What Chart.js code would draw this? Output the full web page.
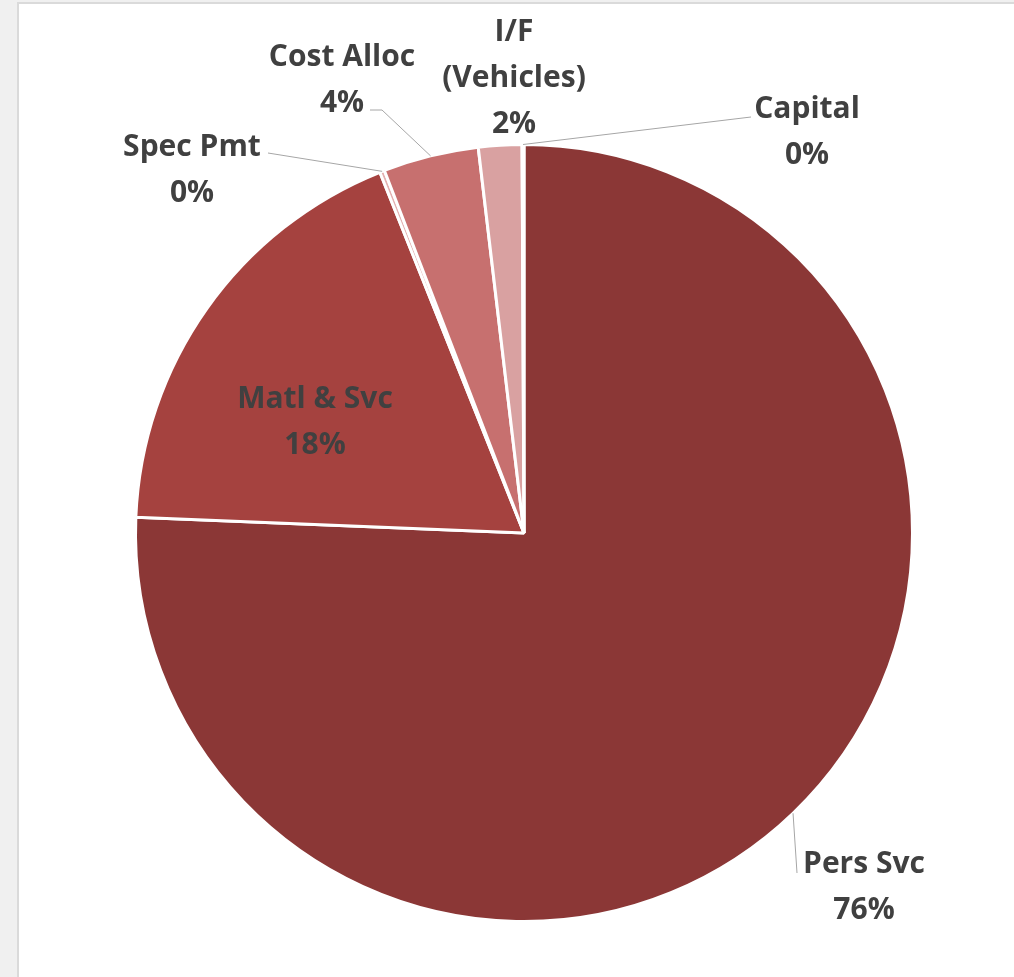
<!DOCTYPE html>
<html>
<head>
<meta charset="utf-8">
<script src="https://cdn.jsdelivr.net/npm/chart.js@4"></script>
<style>
  html, body { margin: 0; padding: 0; background: #f0f0f0; }
  body { width: 1014px; height: 977px; position: relative; overflow: hidden; }
  #panel {
    position: absolute; left: 17px; top: 2px; right: 0; bottom: 0;
    background: #ffffff; border-left: 2px solid #dadada; border-top: 2px solid #dadada;
  }
  #wrap { position: absolute; left: 0; top: 0; width: 1014px; height: 977px; }
</style>
</head>
<body>
<div id="panel"></div>
<div id="wrap"><canvas id="pieChart" width="1014" height="977"></canvas></div>
<script>
// dane wykresu (udział w budżecie, %)
const categories = ['Pers Svc', 'Matl & Svc', 'Spec Pmt', 'Cost Alloc', 'I/F (Vehicles)', 'Capital'];
const shares = [75.65, 18.3, 0.2, 3.97, 1.8, 0.08];
const sliceColors = ['#8b3736', '#a5423f', '#e3b0b0', '#c7706f', '#d9a1a1', '#7a2e2e'];

// linie etykiet (jak w oryginale)
const labelLines = [
  ['Pers Svc'],
  ['Matl & Svc'],
  ['Spec Pmt'],
  ['Cost Alloc'],
  ['I/F', '(Vehicles)'],
  ['Capital']
];

// rozmieszczenie etykiet: środek pierwszej linii + koniec linii odniesienia
const labelLayout = [
  { x: 864, y: 862, lead: [797, 873] },
  { x: 315, y: 397 },
  { x: 192, y: 145, lead: [268, 153] },
  { x: 342, y: 55, lead: [[382, 110], [370, 110]] },
  { x: 514, y: 30 },
  { x: 807, y: 107, lead: [751, 117] }
];

const LINE_H = 46;
const FONT = 'bold 30px "Open Sans"';

const labelPlugin = {
  id: 'sliceLabels',
  afterDatasetsDraw(chart) {
    const ctx = chart.ctx;
    const arcs = chart.getDatasetMeta(0).data;
    const total = shares.reduce((a, b) => a + b, 0);

    ctx.save();
    // linie odniesienia
    ctx.strokeStyle = '#a6a6a6';
    ctx.lineWidth = 1;
    arcs.forEach((arc, i) => {
      const lay = labelLayout[i];
      if (!lay.lead) return;
      const mid = (arc.startAngle + arc.endAngle) / 2;
      const r = arc.outerRadius;
      const sx = arc.x + Math.cos(mid) * r;
      const sy = arc.y + Math.sin(mid) * r;
      ctx.beginPath();
      ctx.moveTo(sx, sy);
      const pts = Array.isArray(lay.lead[0]) ? lay.lead : [lay.lead];
      pts.forEach(p => ctx.lineTo(p[0], p[1]));
      ctx.stroke();
    });

    // teksty
    ctx.font = FONT;
    ctx.fillStyle = '#404040';
    ctx.textAlign = 'center';
    ctx.textBaseline = 'middle';
    arcs.forEach((arc, i) => {
      const lay = labelLayout[i];
      const pct = Math.round(shares[i] / total * 100) + '%';
      const lines = labelLines[i].concat([pct]);
      lines.forEach((t, k) => ctx.fillText(t, lay.x, lay.y + 2 + k * LINE_H));
    });
    ctx.restore();
  }
};

const ctx = document.getElementById('pieChart').getContext('2d');
new Chart(ctx, {
  type: 'pie',
  data: {
    labels: categories,
    datasets: [{
      data: shares,
      backgroundColor: sliceColors,
      borderColor: '#ffffff',
      borderWidth: 3
    }]
  },
  options: {
    responsive: false,
    animation: false,
    layout: { padding: { left: 134, right: 100, top: 143, bottom: 54 } },
    plugins: {
      legend: { display: false },
      tooltip: { enabled: false }
    }
  },
  plugins: [labelPlugin]
});
</script>
</body>
</html>
